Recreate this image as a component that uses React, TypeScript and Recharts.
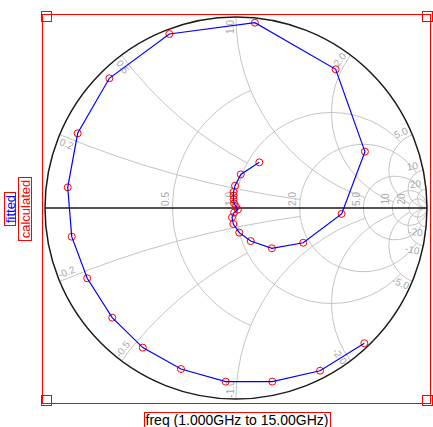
import React from 'react';
import * as Recharts from 'recharts';

const { ScatterChart, Scatter, XAxis, YAxis } = Recharts;

// S11 reflection coefficient, 1 GHz .. 15 GHz sweep (real / imaginary part)
const gammaRe = [
  0.672, 0.44, 0.19, -0.054, -0.288, -0.488, -0.648, -0.779, -0.86, -0.881,
  -0.829, -0.663, -0.349, 0.099, 0.522, 0.675, 0.553, 0.352, 0.188, 0.077,
  0.017, -0.014, -0.021, -0.01, 0.01, 0.0, -0.01, -0.013, -0.013, -0.013,
  -0.005, 0.025, 0.122,
];
const gammaIm = [
  -0.708, -0.852, -0.909, -0.909, -0.843, -0.731, -0.574, -0.368, -0.15, 0.108,
  0.391, 0.679, 0.911, 0.97, 0.726, 0.295, -0.031, -0.182, -0.211, -0.173,
  -0.129, -0.084, -0.049, -0.024, -0.008, 0.008, 0.024, 0.045, 0.065, 0.084,
  0.117, 0.176, 0.239,
];

// Smith grid: constant-resistance circles and the reactance where each one stops
const resistanceValues = [0.5, 1, 2, 5, 10, 20];
const resistanceLimits = [1, 5, 10, 20, Infinity, Infinity];
// constant-reactance arcs and the resistance where each one stops
const reactanceValues = [0.2, 0.5, 1, 2, 5, 10, 20];
const reactanceLimits = [2, 1, 5, 10, 20, Infinity, Infinity];

const points = gammaRe.map((re, i) => ({ re, im: gammaIm[i] }));

const W = 433;
const H = 427;
const MARGIN = { top: 17, right: 6, bottom: 28, left: 45 };
const FONT = 'Liberation Sans, Arial, sans-serif';
const GRID = '#c4c4c4';
const GRID_TEXT = '#a8a8a8';

const usePlotAreaSafe: () => any = (Recharts as any).usePlotArea ?? (() => undefined);

// z = r + jx  ->  reflection coefficient
const gammaOf = (r: number, x: number): [number, number] => {
  if (!isFinite(r) || !isFinite(x)) return [1, 0];
  const den = (r + 1) * (r + 1) + x * x;
  return [(r * r - 1 + x * x) / den, (2 * x) / den];
};

const fmt = (v: number) => (Math.abs(v) >= 10 ? String(v) : v.toFixed(1));

const SmithGrid = () => {
  const area = usePlotAreaSafe();
  const x0 = area?.x ?? MARGIN.left;
  const y0 = area?.y ?? MARGIN.top;
  const w = area?.width ?? W - MARGIN.left - MARGIN.right;
  const h = area?.height ?? H - MARGIN.top - MARGIN.bottom;
  const R = w / 2;
  const cx = x0 + w / 2;
  const cy = y0 + h / 2;
  const P = (g: [number, number]) => [cx + g[0] * R, cy - g[1] * R];

  const paths: React.ReactNode[] = [];
  const labels: React.ReactNode[] = [];

  resistanceValues.forEach((r, i) => {
    const rad = R / (1 + r);
    const ccx = cx + (r / (1 + r)) * R;
    const xl = resistanceLimits[i];
    if (!isFinite(xl)) {
      paths.push(<circle key={`r${r}`} cx={ccx} cy={cy} r={rad} fill="none" stroke={GRID} />);
    } else {
      const [ax, ay] = P(gammaOf(r, xl));
      const [bx, by] = P(gammaOf(r, -xl));
      const large = ax > ccx ? 1 : 0;
      paths.push(
        <path key={`r${r}`} d={`M${ax},${ay} A${rad},${rad} 0 ${large} 0 ${bx},${by}`} fill="none" stroke={GRID} />
      );
    }
    const lx = ccx - rad - 7;
    const ly = cy - 9;
    labels.push(
      <text key={`rl${r}`} x={lx} y={ly} transform={`rotate(-90 ${lx} ${ly})`} textAnchor="middle"
        dominantBaseline="central" fontSize={10} fontFamily={FONT} fill={GRID_TEXT}>
        {fmt(r)}
      </text>
    );
  });

  reactanceValues.forEach((xv, i) => {
    const rl = reactanceLimits[i];
    [xv, -xv].forEach((x) => {
      const rad = R / Math.abs(x);
      const [sx, sy] = P(gammaOf(0, x));
      const [ex, ey] = P(gammaOf(rl, x));
      const sweep = x > 0 ? 0 : 1;
      paths.push(
        <path key={`x${x}`} d={`M${sx},${sy} A${rad},${rad} 0 0 ${sweep} ${ex},${ey}`} fill="none" stroke={GRID} />
      );
      // label sits just inside the rim, on the low-reactance side of the arc
      const th = Math.atan2(cy - sy, sx - cx);
      const inX = -Math.cos(th);
      const inY = Math.sin(th);
      const tX = x > 0 ? -Math.sin(th) : Math.sin(th);
      const tY = x > 0 ? -Math.cos(th) : Math.cos(th);
      const lx = sx + inX * 10 + tX * 6;
      const ly = sy + inY * 10 + tY * 6;
      let ang = (Math.atan2(inY, inX) * 180) / Math.PI;
      if (ang >= 89) ang -= 180;
      if (ang < -91) ang += 180;
      labels.push(
        <text key={`xl${x}`} x={lx} y={ly} transform={`rotate(${ang} ${lx} ${ly})`} textAnchor="middle"
          dominantBaseline="central" fontSize={10} fontFamily={FONT} fill={GRID_TEXT}>
          {(x < 0 ? '-' : '') + fmt(Math.abs(x))}
        </text>
      );
    });
  });

  return (
    <g>
      {paths}
      {labels}
      <circle cx={cx} cy={cy} r={R} fill="none" stroke="#1a1a1a" strokeWidth={1.5} />
      <line x1={cx - R} y1={cy} x2={cx + R} y2={cy} stroke="#1a1a1a" strokeWidth={1.5} />
    </g>
  );
};

const RED = '#ff0000';

const Frame = () => (
  <svg width={W} height={H} style={{ position: 'absolute', left: 0, top: 0, pointerEvents: 'none' }}>
    <rect x={42.5} y={14.5} width={388} height={389} fill="none" stroke={RED} />
    {[[41.5, 11.5], [422.5, 11.5], [41.5, 395.5], [422.5, 395.5]].map(([x, y]) => (
      <rect key={`${x}-${y}`} x={x} y={y} width={10} height={10} fill="none" stroke={RED} />
    ))}
    <rect x={4.5} y={192.5} width={11} height={33} fill="#fff" stroke={RED} />
    <text x={10} y={209} transform="rotate(-90 10 209)" textAnchor="middle" dominantBaseline="central"
      fontSize={13} fontFamily={FONT} fill="#0000ff">fitted</text>
    <rect x={18.5} y={177.5} width={13} height={63} fill="#fff" stroke={RED} />
    <text x={25} y={209} transform="rotate(-90 25 209)" textAnchor="middle" dominantBaseline="central"
      fontSize={13} fontFamily={FONT} fill={RED}>calculated</text>
    <rect x={144.5} y={412.5} width={186} height={18} fill="#fff" stroke={RED} />
    <text x={237} y={425} textAnchor="middle" fontSize={14} fontFamily={FONT} fill="#000">
      freq (1.000GHz to 15.00GHz)
    </text>
  </svg>
);

export default function App() {
  return (
    <div style={{ position: 'absolute', left: 0, top: 0, width: W, height: H, background: '#fff', overflow: 'hidden' }}>
      <ScatterChart width={W} height={H} margin={MARGIN}>
        <XAxis type="number" dataKey="re" domain={[-1, 1]} allowDataOverflow hide />
        <YAxis type="number" dataKey="im" domain={[-1, 1]} allowDataOverflow hide />
        <SmithGrid />
        <Scatter
          name="calculated"
          data={points}
          isAnimationActive={false}
          shape={(p: any) => <circle cx={p.cx} cy={p.cy} r={3.5} fill="none" stroke={RED} strokeWidth={1} />}
        />
        <Scatter
          name="fitted"
          data={points}
          isAnimationActive={false}
          line={{ stroke: '#0000ff', strokeWidth: 1.2 }}
          shape={() => <g />}
        />
      </ScatterChart>
      <Frame />
    </div>
  );
}
